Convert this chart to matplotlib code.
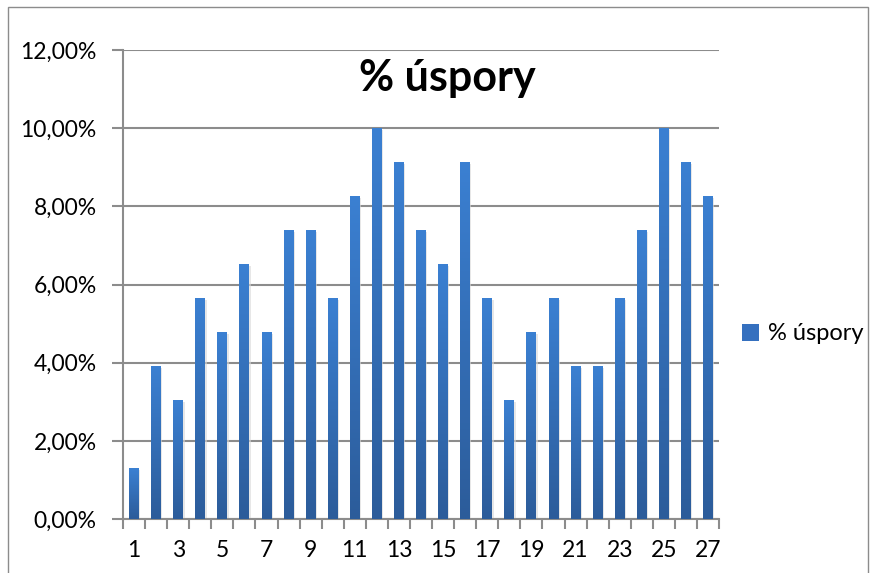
import numpy as np
import matplotlib
matplotlib.use('Agg')
import matplotlib.pyplot as plt
from matplotlib.patches import Rectangle
from matplotlib.ticker import FuncFormatter

plt.rcParams['font.family'] = ['Lato', 'DejaVu Sans']

## data
days = list(range(1, 28))
uspory = [1.30, 3.91, 3.04, 5.65, 4.78, 6.52, 4.78, 7.39, 7.39, 5.65,
          8.26, 10.00, 9.13, 7.39, 6.52, 9.13, 5.65, 3.04, 4.78, 5.65,
          3.91, 3.91, 5.65, 7.39, 10.00, 9.13, 8.26]
series_name = '% úspory'
chart_title = '% úspory'
y_ticks = [0, 2, 4, 6, 8, 10, 12]

grid_col = '#8c8c8c'
top_col = np.array([0x3b, 0x80, 0xd2]) / 255.0
bot_col = np.array([0x2c, 0x5c, 0x9a]) / 255.0

fig = plt.figure(figsize=(8.79, 5.73), dpi=100)
ax = fig.add_axes([0.140, 0.0942, 0.678, 0.8185])

# outer chart border
fig.patches.append(Rectangle((8 / 879, -0.05), (868 - 8) / 879, 1 - 7 / 573 + 0.05,
                             transform=fig.transFigure, fill=False,
                             edgecolor='#8c8c8c', linewidth=1.0))

bars = ax.bar(days, uspory, width=0.45, color=top_col, zorder=3)

# vertical gradient on each bar, light on top and dark at the bottom
grad = np.linspace(0, 1, 256).reshape(-1, 1)
cols = bot_col[None, None, :] * (1 - grad[:, :, None]) + top_col[None, None, :] * grad[:, :, None]
for b in bars:
    x0, y0 = b.get_x(), b.get_y()
    w, h = b.get_width(), b.get_height()
    # soft shadow to the right
    ax.add_patch(Rectangle((x0 + 0.06, y0), w, h - 0.05, color='#d8d8d8', alpha=0.6, zorder=2, linewidth=0))
    im = ax.imshow(cols, extent=(x0, x0 + w, y0, y0 + h), origin='lower',
                   aspect='auto', zorder=4, interpolation='bilinear')
    im.set_clip_path(b)

ax.set_xlim(0.5, 27.5)
ax.set_ylim(0, 12)

ax.set_yticks(y_ticks)
ax.yaxis.set_major_formatter(FuncFormatter(lambda v, p: ('%.2f' % v).replace('.', ',') + '%'))
ax.grid(axis='y', color=grid_col, linewidth=1.5, zorder=0)
ax.tick_params(axis='y', length=8, width=1.5, color=grid_col, labelsize=16.5, pad=11)

ax.set_xticks(days[::2])
ax.set_xticks(np.arange(0.5, 28, 1), minor=True)
ax.tick_params(axis='x', which='major', length=0, labelsize=16.5, pad=15)
ax.tick_params(axis='x', which='minor', length=7, width=1.5, color=grid_col)

for s in ['top', 'right']:
    ax.spines[s].set_visible(False)
for s in ['left', 'bottom']:
    ax.spines[s].set_color(grid_col)
    ax.spines[s].set_linewidth(1.5)

fig.text(447 / 879, 1 - 78 / 573, chart_title, ha='center', va='center',
         fontsize=31, fontweight='bold')

handle = Rectangle((0, 0), 1, 1, facecolor='#3570bf')
fig.legend([handle], [series_name], loc='center left', bbox_to_anchor=(0.82, 1 - 334 / 573),
           frameon=False, fontsize=17, handlelength=0.7, handleheight=0.7, handletextpad=0.4)

fig.savefig('out.png', dpi=100)
